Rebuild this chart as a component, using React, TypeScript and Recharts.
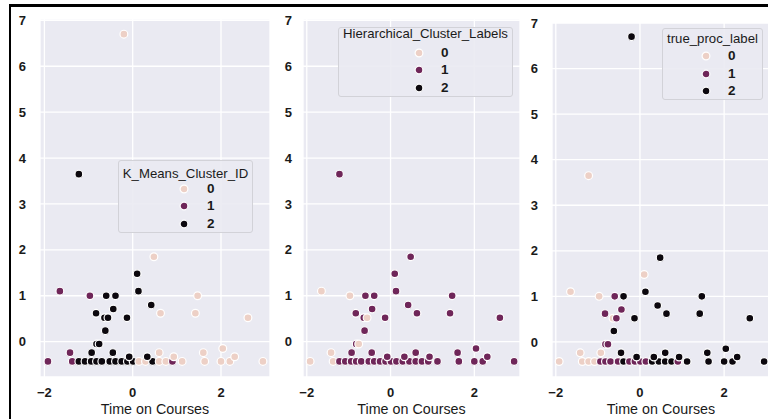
import React from 'react';
import { ScatterChart, Scatter, XAxis, YAxis, CartesianGrid } from 'recharts';

// one row per student: x = Time on Courses (scaled), y = second scaled feature
const timeOnCourses = [
  -1.92, -1.65, -1.42, -1.37, -0.97, -1.22, -1.08, -0.94, -0.82, -0.70,
  -0.52, -0.39, -0.25, -0.12, 0.01, 0.14, 0.29, 0.45, 0.60, 0.75,
  0.90, 1.12, 1.63, 2.00, 2.20, 2.95, -0.08, 0.33, 0.93, 2.31,
  -0.93, -0.45, 0.60, 1.60, 2.04, -0.82, -0.76, -0.62, -0.64, -0.56,
  -0.13, 2.61, -0.83, 0.63, 1.42, -0.44, 0.42, -0.60, -0.39, 1.47,
  0.13, 0.10, 0.48, -1.22, -0.20,
];
const secondFeature = [
  -0.43, 1.10, -0.24, -0.43, 1.00, -0.43, -0.43, -0.43, -0.43, -0.43,
  -0.43, -0.43, -0.43, -0.43, -0.43, -0.43, -0.43, -0.43, -0.43, -0.43,
  -0.43, -0.43, -0.43, -0.43, -0.43, -0.43, -0.33, -0.33, -0.33, -0.33,
  -0.24, -0.24, -0.24, -0.24, -0.15, -0.05, -0.05, 0.24, 0.52, 0.52,
  0.52, 0.52, 0.62, 0.62, 0.62, 0.71, 0.80, 1.00, 1.00, 1.00,
  1.10, 1.48, 1.85, 3.65, 6.70,
];
const kMeansClusterId = [
  1, 1, 1, 1, 1, 2, 2, 2, 2, 2,
  2, 2, 2, 2, 2, 0, 0, 2, 0, 0,
  1, 0, 0, 0, 0, 0, 2, 2, 0, 0,
  2, 2, 0, 0, 0, 2, 2, 2, 2, 2,
  2, 0, 2, 0, 0, 2, 2, 2, 2, 0,
  2, 2, 0, 2, 0,
];
const hierarchicalClusterLabels = [
  0, 0, 0, 0, 0, 1, 1, 1, 1, 1,
  1, 1, 1, 1, 1, 1, 1, 1, 1, 1,
  1, 1, 1, 1, 1, 1, 1, 1, 1, 1,
  1, 1, 1, 1, 1, 1, 0, 1, 1, 0,
  1, 1, 1, 1, 1, 1, 1, 1, 1, 1,
  1, 1, 1, 1, 0,
];
const trueProcLabel = [
  0, 0, 0, 0, 0, 0, 0, 1, 1, 1,
  1, 2, 1, 1, 1, 1, 2, 2, 2, 2,
  1, 2, 2, 2, 2, 2, 2, 2, 2, 2,
  0, 2, 2, 2, 2, 1, 1, 2, 0, 1,
  2, 2, 1, 2, 2, 1, 2, 1, 2, 2,
  2, 0, 2, 0, 2,
];

const hueLevels = [0, 1, 2];
const hueColors = ['#edd0c6', '#6f2659', '#0c080e'];
const xTicks = [-2, 0, 2];
const yTicks = [0, 1, 2, 3, 4, 5, 6, 7];

const FONT = '"Liberation Sans", Arial, Helvetica, sans-serif';
const INK = '#1a1a1a';

const fmt = (v: number) => String(v).replace('-', '\u2212');

function Dot(props: any) {
  const { cx, cy, payload } = props;
  if (cx == null || cy == null) return null;
  return <circle cx={cx} cy={cy} r={3.9} fill={hueColors[payload.hue]} stroke="#ffffff" strokeWidth={1.2} />;
}

function Panel({ left, width, plotTop, yTickGap, xDomain, yDomain, labels }: any) {
  const data = timeOnCourses.map((x, i) => ({ x, y: secondFeature[i], hue: labels[i] }));
  return (
    <div style={{ position: 'absolute', left, top: 0 }}>
      <ScatterChart width={width} height={419} margin={{ top: plotTop, right: 0, bottom: 0, left: 0 }}>
        <CartesianGrid fill="#eaeaf2" fillOpacity={1} stroke="#ffffff" strokeWidth={1.3} />
        <XAxis
          type="number"
          dataKey="x"
          domain={xDomain}
          ticks={xTicks}
          allowDataOverflow
          axisLine={false}
          tickLine={false}
          tickSize={0}
          tickMargin={11}
          height={42}
          tickFormatter={fmt}
          tick={{ fill: INK, fontSize: 13, fontWeight: 700, fontFamily: FONT }}
          label={{ value: 'Time on Courses', position: 'insideBottom', offset: 5, fill: INK, fontSize: 14.3, fontFamily: FONT }}
        />
        <YAxis
          type="number"
          dataKey="y"
          domain={yDomain}
          ticks={yTicks}
          allowDataOverflow
          axisLine={false}
          tickLine={false}
          tickSize={0}
          tickMargin={yTickGap}
          width={40}
          tickFormatter={fmt}
          tick={{ fill: INK, fontSize: 13, fontWeight: 700, fontFamily: FONT }}
        />
        <Scatter data={data} shape={<Dot />} isAnimationActive={false} />
      </ScatterChart>
    </div>
  );
}

function HueLegend({ title, box, titleY, markerX, textX, rowY }: any) {
  return (
    <div
      style={{
        position: 'absolute',
        left: box[0],
        top: box[1],
        width: box[2],
        height: box[3],
        background: 'rgba(234,234,242,0.9)',
        border: '1px solid #d2d2d8',
        borderRadius: 3,
        boxSizing: 'border-box',
        fontFamily: FONT,
        color: INK,
      }}
    >
      <div
        style={{
          position: 'absolute',
          left: -10,
          right: -10,
          top: titleY,
          transform: 'translateY(-50%)',
          textAlign: 'center',
          fontSize: 13.2,
          lineHeight: 1,
          whiteSpace: 'nowrap',
        }}
      >
        {title}
      </div>
      {hueLevels.map((h, i) => (
        <React.Fragment key={h}>
          <svg
            width={12}
            height={12}
            style={{ position: 'absolute', left: markerX - 6, top: rowY[i] - 6 }}
          >
            <circle cx={6} cy={6} r={3.9} fill={hueColors[h]} stroke="#ffffff" strokeWidth={1.2} />
          </svg>
          <div
            style={{
              position: 'absolute',
              left: textX,
              top: rowY[i],
              transform: 'translateY(-50%)',
              fontSize: 13.5,
              fontWeight: 700,
              lineHeight: 1,
            }}
          >
            {h}
          </div>
        </React.Fragment>
      ))}
    </div>
  );
}

export default function App() {
  return (
    <div
      style={{
        position: 'absolute',
        left: 0,
        top: 0,
        width: 768,
        height: 419,
        overflow: 'hidden',
        background: '#ffffff',
        fontFamily: FONT,
      }}
    >
      <Panel left={0} width={270} plotTop={19} yTickGap={14} xDomain={[-2.1, 3.11]} yDomain={[-0.77, 7.03]} labels={kMeansClusterId} />
      <Panel left={263} width={257} plotTop={19} yTickGap={11} xDomain={[-2.09, 3.09]} yDomain={[-0.77, 7.03]} labels={hierarchicalClusterLabels} />
      <Panel left={512} width={258} plotTop={23} yTickGap={14} xDomain={[-2.09, 3.09]} yDomain={[-0.77, 7.0]} labels={trueProcLabel} />

      <HueLegend title="K_Means_Cluster_ID" box={[118, 160, 135, 73]} titleY={13} markerX={65} textX={88} rowY={[28, 45, 63]} />
      <HueLegend title="Hierarchical_Cluster_Labels" box={[338, 27, 175, 70]} titleY={6} markerX={80} textX={102} rowY={[25, 42, 60]} />
      <HueLegend title="true_proc_label" box={[662, 28, 101, 72]} titleY={10} markerX={43} textX={65} rowY={[27, 45, 62]} />

      <div
        style={{
          position: 'absolute',
          left: 9,
          top: 4,
          width: 800,
          height: 500,
          borderLeft: '2px solid #000',
          borderTop: '3px solid #000',
          pointerEvents: 'none',
        }}
      />
    </div>
  );
}
